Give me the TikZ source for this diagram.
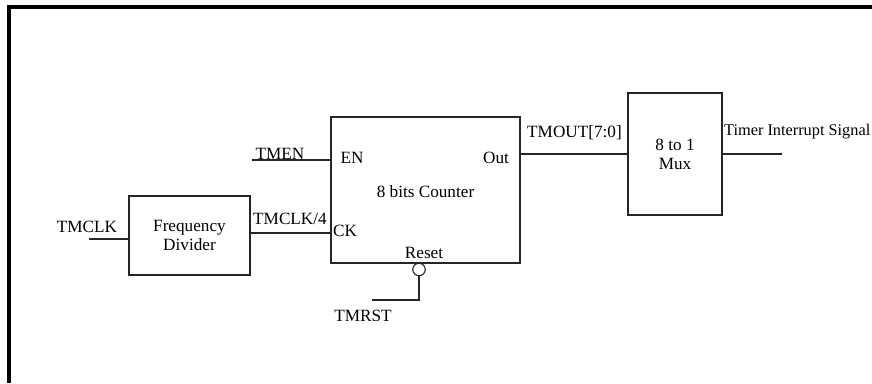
\documentclass[tikz,border=0pt]{standalone}
\usepackage{fontspec}
\setmainfont{Liberation Serif}
\usetikzlibrary{positioning}
\tikzset{
      blockbox/.style={
        draw=black!85,
        line width=1.1pt,
        inner sep=0pt,
        align=center
      },
      pinlabel/.style={inner sep=0pt},
      wire/.style={draw=black!85, line width=1.1pt}
    }

\begin{document}
\begin{tikzpicture}[x=1pt,y=-1pt,font=\fontsize{17.2}{19}\selectfont]
    \useasboundingbox (0,0) rectangle (872,383);
    \draw[line width=3.2pt] (9,383) -- (9,7) -- (872,7);
    % blocks
    \node[blockbox, minimum width=121pt, minimum height=79pt] (fdiv) at (189.5,235.5) {Frequency\\Divider};
    \node[blockbox, minimum width=189pt, minimum height=146pt] (cnt) at (425.5,190) {};
    \node[blockbox, minimum width=94pt, minimum height=122pt] (mux) at (675,154) {8 to 1\\Mux};
    \node[blockbox, circle, minimum size=12.5pt] (rstbub) at (419,269.5) {};
    \node[pinlabel] (cnttxt) at (425.5,191.5) {8 bits Counter};
    \node[pinlabel] (enpin) at (352,158) {EN};
    \node[pinlabel] (ckpinlbl) at (345,231) {CK};
    \node[pinlabel] (outpin) at (496,158) {Out};
    \node[pinlabel] (rstpin) at (424,253) {Reset};
    % signal names
    \node[pinlabel] (tmclk) at (87,227) {TMCLK};
    \node[pinlabel] (tmen) at (280,154) {TMEN};
    \node[pinlabel] (tmclkq) at (290,219) {TMCLK/4};
    \node[pinlabel] (tmout) at (574.5,133) {TMOUT[7:0]};
    \node[pinlabel, anchor=west, font=\fontsize{16.3}{19}\selectfont] (tis) at (724,132) {Timer Interrupt Signal};
    \node[pinlabel] (tmrst) at (363,316) {TMRST};
    % wires
    \coordinate (tmclkin) at (89,239);
    \coordinate (tmenin) at (252,160);
    \coordinate (ckpin) at (331,233);
    \coordinate (tisout) at (782,154);
    \coordinate (tmrstin) at (372,300);
    \draw[wire] (tmclkin) -- (tmclkin -| fdiv.west);
    \draw[wire] (tmenin) -- (tmenin -| cnt.west);
    \draw[wire] (ckpin -| fdiv.east) -- (ckpin);
    \draw[wire] (mux.west -| cnt.east) -- (mux.west);
    \draw[wire] (mux.east) -- (tisout);
    \draw[wire] (rstbub.south) |- (tmrstin);
    \end{tikzpicture}
\end{document}
